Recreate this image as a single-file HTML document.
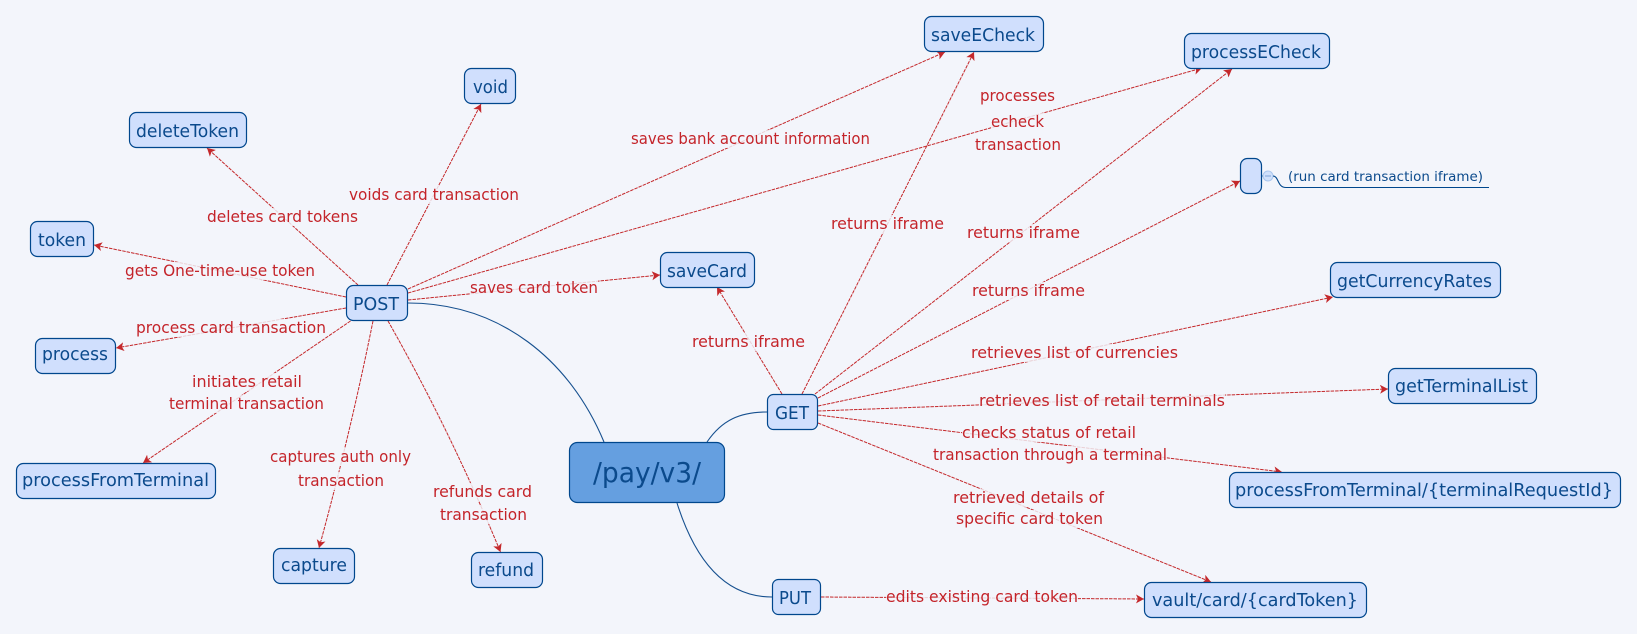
<!DOCTYPE html>
<html><head><meta charset="utf-8"><style>
html,body{margin:0;padding:0;background:#f3f5fb;width:1637px;height:634px;overflow:hidden}
svg{display:block}
.l{fill:none;stroke:#c4282b;stroke-width:1;stroke-dasharray:3.5 1;marker-end:url(#a)}
.t{fill:none;stroke:#16508f;stroke-width:1.1}
.b{fill:#d0dffd;stroke:#00478d;stroke-width:1.2}
.n{font:18px "DejaVu Sans",sans-serif;fill:#0b4a8c}
.c{font:16px "DejaVu Sans",sans-serif;fill:#c4242a}
.k{fill:#f3f5fb;opacity:.82}
</style></head><body>
<svg width="1637" height="634" viewBox="0 0 1637 634" xmlns="http://www.w3.org/2000/svg">
<defs><marker id="a" markerUnits="userSpaceOnUse" markerWidth="10" markerHeight="10" refX="8" refY="4.500" orient="auto"><path d="M0 0L8 4.500L0 9L2 4.500Z" fill="#c4282b"/></marker></defs>

<path class="t" d="M408 303C500 303 570 360 604 442"/>
<path class="t" d="M707 442C722 420 740 412 767 412"/>
<path class="t" d="M677 503C695 560 725 597 772 597"/>

<path class="l" d="M358 285L207 148"/>
<path class="l" d="M346 297L94 245"/>
<path class="l" d="M346 308L116 348"/>
<path class="l" d="M387 285L481 104"/>
<path class="l" d="M408 289L945 52"/>
<path class="l" d="M408 293L1202 68"/>
<path class="l" d="M408 300L660 275"/>
<path class="l" d="M350.500 321L143 463"/>
<path class="l" d="M373 321Q350 435 319 548"/>
<path class="l" d="M388 321Q450 430 500.500 552"/>
<path class="l" d="M782 394L717 287"/>
<path class="l" d="M802 394L974 52"/>
<path class="l" d="M815 394L1232 69"/>
<path class="l" d="M818 398L1240 181"/>
<path class="l" d="M818 406L1333 297"/>
<path class="l" d="M818 411L977 405L1227 395L1388 389"/>
<path class="l" d="M818 415L1282 472"/>
<path class="l" d="M818 423L1211 582"/>
<path class="l" d="M821 597L1144 599"/>

<g class="k">
<rect x="207" y="208" width="151" height="18"/>
<rect x="125" y="262" width="190" height="18"/>
<rect x="136" y="319" width="190" height="18"/>
<rect x="349" y="186" width="170" height="18"/>
<rect x="192" y="373" width="110" height="18"/>
<rect x="169" y="395" width="155" height="18"/>
<rect x="270" y="448" width="141" height="18"/>
<rect x="298" y="472" width="86" height="18"/>
<rect x="433" y="483" width="99" height="18"/>
<rect x="440" y="506" width="87" height="18"/>
<rect x="470" y="279" width="128" height="18"/>
<rect x="631" y="130" width="239" height="18"/>
<rect x="980" y="87" width="75" height="18"/>
<rect x="991" y="113" width="53" height="18"/>
<rect x="975" y="136" width="86" height="18"/>
<rect x="831" y="215" width="113" height="18"/>
<rect x="967" y="224" width="113" height="18"/>
<rect x="972" y="282" width="113" height="18"/>
<rect x="692" y="333" width="113" height="18"/>
<rect x="971" y="344" width="207" height="18"/>
<rect x="979" y="392" width="246" height="18"/>
<rect x="962" y="424" width="174" height="18"/>
<rect x="933" y="446" width="234" height="18"/>
<rect x="953" y="489" width="151" height="18"/>
<rect x="956" y="510" width="147" height="18"/>
<rect x="886" y="588" width="192" height="18"/>
</g>

<rect class="b" x="129.500" y="112.500" width="117" height="35" rx="7"/>
<rect class="b" x="30.500" y="221.500" width="63" height="35" rx="7"/>
<rect class="b" x="346.500" y="285.500" width="61" height="35" rx="7"/>
<rect class="b" x="35.500" y="338.500" width="80" height="35" rx="7"/>
<rect class="b" x="16.500" y="463.500" width="199" height="35" rx="7"/>
<rect class="b" x="273.500" y="548.500" width="81" height="35" rx="7"/>
<rect class="b" x="471.500" y="552.500" width="71" height="35" rx="7"/>
<rect class="b" x="464.500" y="68.500" width="51" height="35" rx="7"/>
<rect class="b" x="660.500" y="252.500" width="94" height="35" rx="7"/>
<rect class="b" x="924.500" y="16.500" width="119" height="35" rx="7"/>
<rect class="b" x="1184.500" y="33.500" width="145" height="35" rx="7"/>
<rect class="b" x="1240.500" y="158.500" width="21" height="35" rx="7"/>
<rect class="b" x="1330.500" y="262.500" width="170" height="35" rx="7"/>
<rect class="b" x="1388.500" y="368.500" width="148" height="35" rx="7"/>
<rect class="b" x="1229.500" y="472.500" width="391" height="35" rx="7"/>
<rect class="b" x="1144.500" y="582.500" width="222" height="35" rx="7"/>
<rect class="b" x="767.500" y="394.500" width="50" height="35" rx="6"/>
<rect class="b" x="772.500" y="579.500" width="48" height="35" rx="6"/>
<rect x="569.500" y="442.500" width="155" height="60" rx="8" fill="#659fe0" stroke="#00478d" stroke-width="1.2"/>

<path d="M1262 176H1264" stroke="#00478d" fill="none"/>
<circle cx="1268" cy="176" r="5" fill="#cfe0fb" stroke="#a9c6ee"/>
<path d="M1265 176H1271" stroke="#7fa5d8"/>
<path d="M1273 176C1279 176 1277 187.500 1286 187.500H1489" fill="none" stroke="#00478d" stroke-width="1.1"/>
<text x="1288" y="181" font-family="DejaVu Sans, sans-serif" font-size="13.500" fill="#0b4a8c" textLength="195" lengthAdjust="spacingAndGlyphs">(run card transaction iframe)</text>

<g class="n">
<text x="136" y="137" textLength="103" lengthAdjust="spacingAndGlyphs">deleteToken</text>
<text x="38" y="246" textLength="48" lengthAdjust="spacingAndGlyphs">token</text>
<text x="353" y="310" textLength="46" lengthAdjust="spacingAndGlyphs">POST</text>
<text x="42" y="360" textLength="66" lengthAdjust="spacingAndGlyphs">process</text>
<text x="22" y="486" textLength="187" lengthAdjust="spacingAndGlyphs">processFromTerminal</text>
<text x="281" y="571" textLength="66" lengthAdjust="spacingAndGlyphs">capture</text>
<text x="478" y="576" textLength="56" lengthAdjust="spacingAndGlyphs">refund</text>
<text x="473" y="93" textLength="35" lengthAdjust="spacingAndGlyphs">void</text>
<text x="667" y="277" textLength="80" lengthAdjust="spacingAndGlyphs">saveCard</text>
<text x="931" y="41" textLength="104" lengthAdjust="spacingAndGlyphs">saveECheck</text>
<text x="1191" y="58" textLength="130" lengthAdjust="spacingAndGlyphs">processECheck</text>
<text x="1337" y="287" textLength="155" lengthAdjust="spacingAndGlyphs">getCurrencyRates</text>
<text x="1395" y="392" textLength="133" lengthAdjust="spacingAndGlyphs">getTerminalList</text>
<text x="1235" y="496" textLength="378" lengthAdjust="spacingAndGlyphs">processFromTerminal/{terminalRequestId}</text>
<text x="1152" y="606" textLength="206" lengthAdjust="spacingAndGlyphs">vault/card/{cardToken}</text>
<text x="775" y="419" textLength="34" lengthAdjust="spacingAndGlyphs">GET</text>
<text x="779" y="604" textLength="32" lengthAdjust="spacingAndGlyphs">PUT</text>
</g>
<text x="593" y="482" font-family="DejaVu Sans, sans-serif" font-size="28" fill="#0b4a8c" textLength="108" lengthAdjust="spacingAndGlyphs">/pay/v3/</text>

<g class="c">
<text x="207" y="222" textLength="151" lengthAdjust="spacingAndGlyphs">deletes card tokens</text>
<text x="125" y="276" textLength="190" lengthAdjust="spacingAndGlyphs">gets One-time-use token</text>
<text x="136" y="333" textLength="190" lengthAdjust="spacingAndGlyphs">process card transaction</text>
<text x="349" y="200" textLength="170" lengthAdjust="spacingAndGlyphs">voids card transaction</text>
<text x="192" y="387" textLength="110" lengthAdjust="spacingAndGlyphs">initiates retail</text>
<text x="169" y="409" textLength="155" lengthAdjust="spacingAndGlyphs">terminal transaction</text>
<text x="270" y="462" textLength="141" lengthAdjust="spacingAndGlyphs">captures auth only</text>
<text x="298" y="486" textLength="86" lengthAdjust="spacingAndGlyphs">transaction</text>
<text x="433" y="497" textLength="99" lengthAdjust="spacingAndGlyphs">refunds card</text>
<text x="440" y="520" textLength="87" lengthAdjust="spacingAndGlyphs">transaction</text>
<text x="470" y="293" textLength="128" lengthAdjust="spacingAndGlyphs">saves card token</text>
<text x="631" y="144" textLength="239" lengthAdjust="spacingAndGlyphs">saves bank account information</text>
<text x="980" y="101" textLength="75" lengthAdjust="spacingAndGlyphs">processes</text>
<text x="991" y="127" textLength="53" lengthAdjust="spacingAndGlyphs">echeck</text>
<text x="975" y="150" textLength="86" lengthAdjust="spacingAndGlyphs">transaction</text>
<text x="831" y="229" textLength="113" lengthAdjust="spacingAndGlyphs">returns iframe</text>
<text x="967" y="238" textLength="113" lengthAdjust="spacingAndGlyphs">returns iframe</text>
<text x="972" y="296" textLength="113" lengthAdjust="spacingAndGlyphs">returns iframe</text>
<text x="692" y="347" textLength="113" lengthAdjust="spacingAndGlyphs">returns iframe</text>
<text x="971" y="358" textLength="207" lengthAdjust="spacingAndGlyphs">retrieves list of currencies</text>
<text x="979" y="406" textLength="246" lengthAdjust="spacingAndGlyphs">retrieves list of retail terminals</text>
<text x="962" y="438" textLength="174" lengthAdjust="spacingAndGlyphs">checks status of retail</text>
<text x="933" y="460" textLength="234" lengthAdjust="spacingAndGlyphs">transaction through a terminal</text>
<text x="953" y="503" textLength="151" lengthAdjust="spacingAndGlyphs">retrieved details of</text>
<text x="956" y="524" textLength="147" lengthAdjust="spacingAndGlyphs">specific card token</text>
<text x="886" y="602" textLength="192" lengthAdjust="spacingAndGlyphs">edits existing card token</text>
</g>
</svg>
</body></html>
